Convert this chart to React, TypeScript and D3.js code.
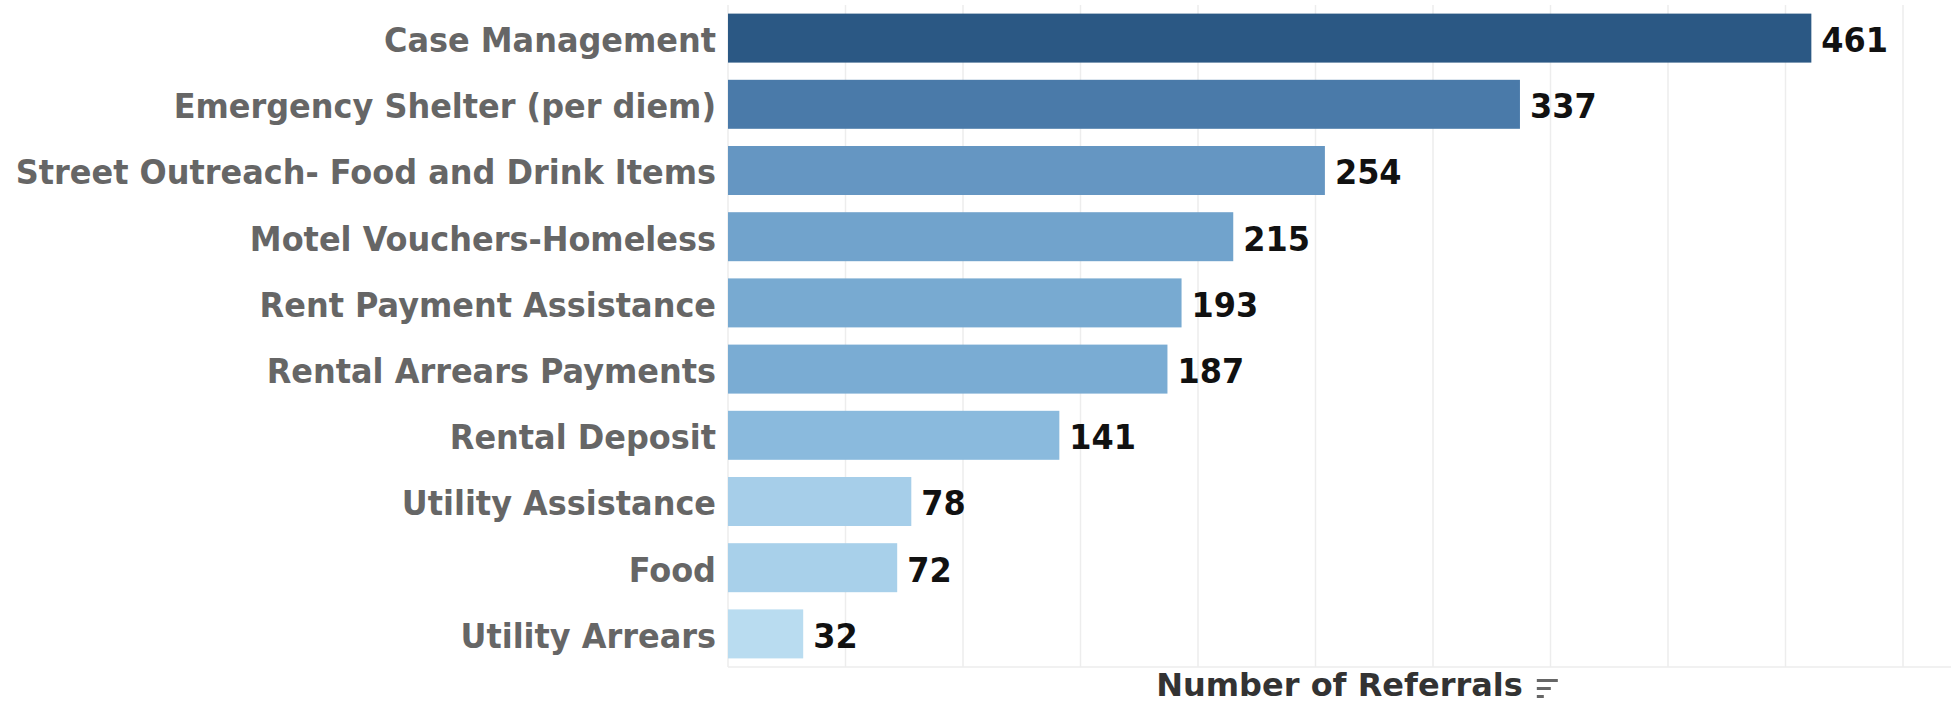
/**
 * ReferralsBar
 * Horizontal bar chart of referral counts by service type
 */

import { useEffect, useRef } from 'react';
import * as d3 from 'd3';

const WIDTH = 1951;
const HEIGHT = 704;

const CATEGORIES = [
  'Case Management',
  'Emergency Shelter (per diem)',
  'Street Outreach- Food and Drink Items',
  'Motel Vouchers-Homeless',
  'Rent Payment Assistance',
  'Rental Arrears Payments',
  'Rental Deposit',
  'Utility Assistance',
  'Food',
  'Utility Arrears',
];

const REFERRALS = [461, 337, 254, 215, 193, 187, 141, 78, 72, 32];

const X_TICKS = [0, 50, 100, 150, 200, 250, 300, 350, 400, 450, 500];

const AXIS_TITLE = 'Number of Referrals';

// sequential blue ramp (value stops -> colour)
const COLOR_STOPS = [32, 78, 141, 190, 254, 337, 461];
const COLOR_RANGE = ['#b9dcf0', '#a6cee9', '#8abadd', '#79abd2', '#6596c2', '#4a7aa9', '#2b5884'];

const FONT = '"DejaVu Sans", Verdana, sans-serif';

export default function App() {
  const svgRef = useRef<SVGSVGElement>(null);

  useEffect(() => {
    if (!svgRef.current) return;
    const svg = d3.select(svgRef.current);
    svg.selectAll('*').remove();

    const margin = { top: 5, right: 0, bottom: 37, left: 728 };
    const innerWidth = WIDTH - margin.left - margin.right;
    const innerHeight = HEIGHT - margin.top - margin.bottom;

    const data = CATEGORIES.map((c, i) => ({ label: c, value: REFERRALS[i] }));

    const xScale = d3.scaleLinear().domain([0, 500]).range([0, 1175]);

    const yScale = d3
      .scaleBand()
      .domain(CATEGORIES)
      .range([0, innerHeight])
      .paddingInner(0.26)
      .paddingOuter(0.13);

    const color = d3
      .scaleLinear<string>()
      .domain(COLOR_STOPS)
      .range(COLOR_RANGE)
      .interpolate(d3.interpolateRgb)
      .clamp(true);

    const g = svg
      .append('g')
      .attr('transform', `translate(${margin.left},${margin.top})`);

    // Grid lines
    g.selectAll('line.grid')
      .data(X_TICKS.slice(1))
      .join('line')
      .attr('class', 'grid')
      .attr('x1', (d) => xScale(d))
      .attr('x2', (d) => xScale(d))
      .attr('y1', 0)
      .attr('y2', innerHeight)
      .attr('stroke', '#ededed')
      .attr('stroke-width', 1.5);

    // axis frame lines
    g.append('line')
      .attr('x1', 0)
      .attr('x2', 0)
      .attr('y1', 0)
      .attr('y2', innerHeight)
      .attr('stroke', '#ededed')
      .attr('stroke-width', 1.5);

    g.append('line')
      .attr('x1', 0)
      .attr('x2', innerWidth)
      .attr('y1', innerHeight)
      .attr('y2', innerHeight)
      .attr('stroke', '#ececec')
      .attr('stroke-width', 1.5);

    // Bars
    g.selectAll('rect.bar')
      .data(data)
      .join('rect')
      .attr('class', 'bar')
      .attr('x', 0)
      .attr('y', (d) => yScale(d.label) || 0)
      .attr('width', (d) => xScale(d.value))
      .attr('height', yScale.bandwidth())
      .attr('fill', (d) => color(d.value));

    // Category labels
    g.selectAll('g.cat')
      .data(data)
      .join('g')
      .attr('class', 'cat')
      .attr(
        'transform',
        (d) => `translate(-12,${(yScale(d.label) || 0) + yScale.bandwidth() / 2}) scale(0.94,1)`
      )
      .append('text')
      .attr('text-anchor', 'end')
      .attr('dy', '0.41em')
      .attr('font-family', FONT)
      .attr('font-weight', 'bold')
      .attr('font-size', 34)
      .attr('fill', '#666666')
      .text((d) => d.label);

    // Value labels
    g.selectAll('g.val')
      .data(data)
      .join('g')
      .attr('class', 'val')
      .attr(
        'transform',
        (d) =>
          `translate(${xScale(d.value) + 10},${(yScale(d.label) || 0) + yScale.bandwidth() / 2}) scale(0.94,1)`
      )
      .append('text')
      .attr('dy', '0.41em')
      .attr('font-family', FONT)
      .attr('font-weight', 'bold')
      .attr('font-size', 34)
      .attr('fill', '#111111')
      .text((d) => String(d.value));

    // Axis title + sort icon
    const title = g
      .append('g')
      .attr('transform', `translate(${innerWidth / 2},${innerHeight + 29})`);
    title
      .append('text')
      .attr('text-anchor', 'middle')
      .attr('font-family', FONT)
      .attr('font-weight', 'bold')
      .attr('font-size', 32)
      .attr('fill', '#333333')
      .text(AXIS_TITLE);

    const titleNode = title.select('text').node() as SVGTextElement;
    const tw = titleNode.getComputedTextLength();
    const icon = title.append('g').attr('transform', `translate(${tw / 2 + 14},-17)`);
    [21, 14, 7].forEach((len, i) => {
      icon
        .append('rect')
        .attr('x', 0)
        .attr('y', i * 8)
        .attr('width', len)
        .attr('height', 3)
        .attr('fill', '#666666');
    });
  }, []);

  return (
    <svg
      ref={svgRef}
      width={WIDTH}
      height={HEIGHT}
      style={{ position: 'absolute', left: 0, top: 0, background: '#ffffff' }}
    />
  );
}
